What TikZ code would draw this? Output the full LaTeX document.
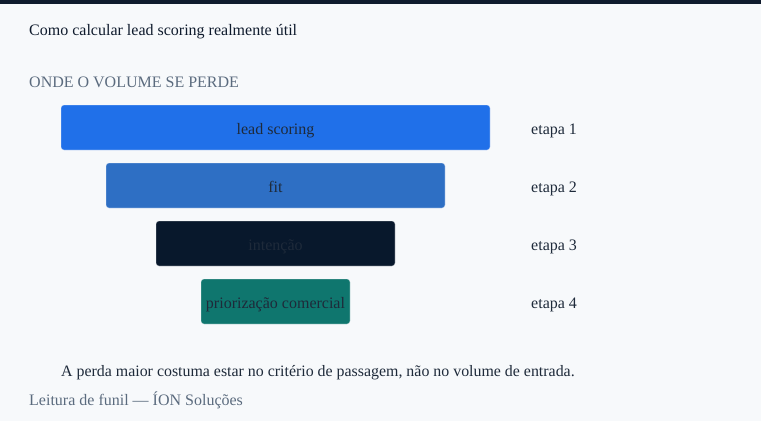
\documentclass[tikz,border=0pt]{standalone}
\usepackage{fontspec}
\setmainfont{Liberation Serif}
\definecolor{bg}{HTML}{F7F9FB}
\definecolor{navy}{HTML}{0F1B2D}
\definecolor{ink}{HTML}{1E2A3A}
\definecolor{muted}{HTML}{5B6B7E}
\definecolor{cA}{HTML}{2070E9}
\definecolor{cB}{HTML}{2E6FC4}
\definecolor{cC}{HTML}{08182C}
\definecolor{cD}{HTML}{0F766E}
\begin{document}
\begin{tikzpicture}[x=1pt,y=-1pt,
  txt/.style={anchor=base west,inner sep=0pt,font=\fontsize{16}{19}\selectfont,text=ink},
  mut/.style={txt,text=muted},
  bar/.style={rounded corners=3pt,draw=white,draw opacity=0.35,line width=0.8pt,inner sep=0pt,
     font=\fontsize{16}{19}\selectfont,text=ink,minimum height=45pt,text height=14pt,text depth=1pt}]
\useasboundingbox (0,0) rectangle (761,421);
\fill[bg] (0,0) rectangle (761,421);
\fill[navy] (0,0) rectangle (761,4);
\node[txt,text=navy] (title) at (29,35.5) {Como calcular lead scoring realmente útil};
\node[mut] (sub) at (29,87.3) {ONDE O VOLUME SE PERDE};
\node[bar,fill=cA,minimum width=429pt] (b1) at (275.5,127.5) {lead scoring};
\node[bar,fill=cB,minimum width=339pt] (b2) at (275.5,185.5) {fit};
\node[bar,fill=cC,minimum width=239pt] (b3) at (275.5,243.5) {intenção};
\node[bar,fill=cD,minimum width=149pt] (b4) at (275.5,301.5) {priorização comercial};
\node[txt] (e1) at (531,134) {etapa 1};
\node[txt] (e2) at (531,192) {etapa 2};
\node[txt] (e3) at (531,250) {etapa 3};
\node[txt] (e4) at (531,308) {etapa 4};
\node[txt,font=\fontsize{15.9}{19}\selectfont] (note) at (61,376.7) {A perda maior costuma estar no critério de passagem, não no volume de entrada.};
\node[mut] (foot) at (29,405) {Leitura de funil — ÍON Soluções};
\end{tikzpicture}
\end{document}
